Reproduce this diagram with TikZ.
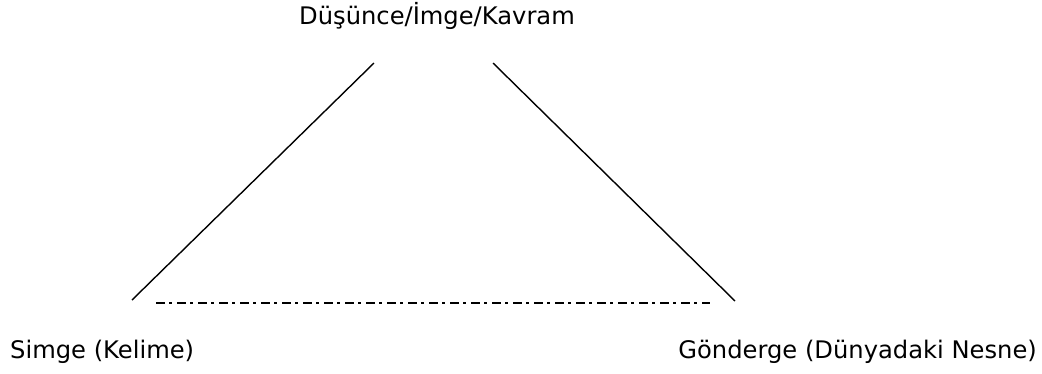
\documentclass[tikz,border=0pt]{standalone}
\usepackage{fontspec}
\setmainfont{DejaVu Sans}
\begin{document}
\begin{tikzpicture}[x=1pt,y=-1pt,
  lbl/.style={inner sep=0pt,font=\fontsize{24.2}{29}\selectfont},
  side/.style={line width=1.4pt,black},
  base/.style={line width=2pt,black,dash pattern=on 9pt off 4pt on 3pt off 5pt}]
\useasboundingbox[fill=white] (0,0) rectangle (1042,373);
\node[lbl,anchor=base] (top) at (437,24) {Düşünce/İmge/Kavram};
\node[lbl,anchor=base west] (sym) at (10,358) {Simge (Kelime)};
\node[lbl,anchor=base east] (ref) at (1037,358) {Gönderge (Dünyadaki Nesne)};
\coordinate (lt) at (374,63);
\coordinate (lb) at (132,300);
\coordinate (rt) at (493,63);
\coordinate (rb) at (735,301);
\coordinate (da) at (156,303);
\coordinate (db) at (710,303);
\draw[side] (lt) -- (lb);
\draw[side] (rt) -- (rb);
\draw[base] (da) -- (db);
\end{tikzpicture}
\end{document}
